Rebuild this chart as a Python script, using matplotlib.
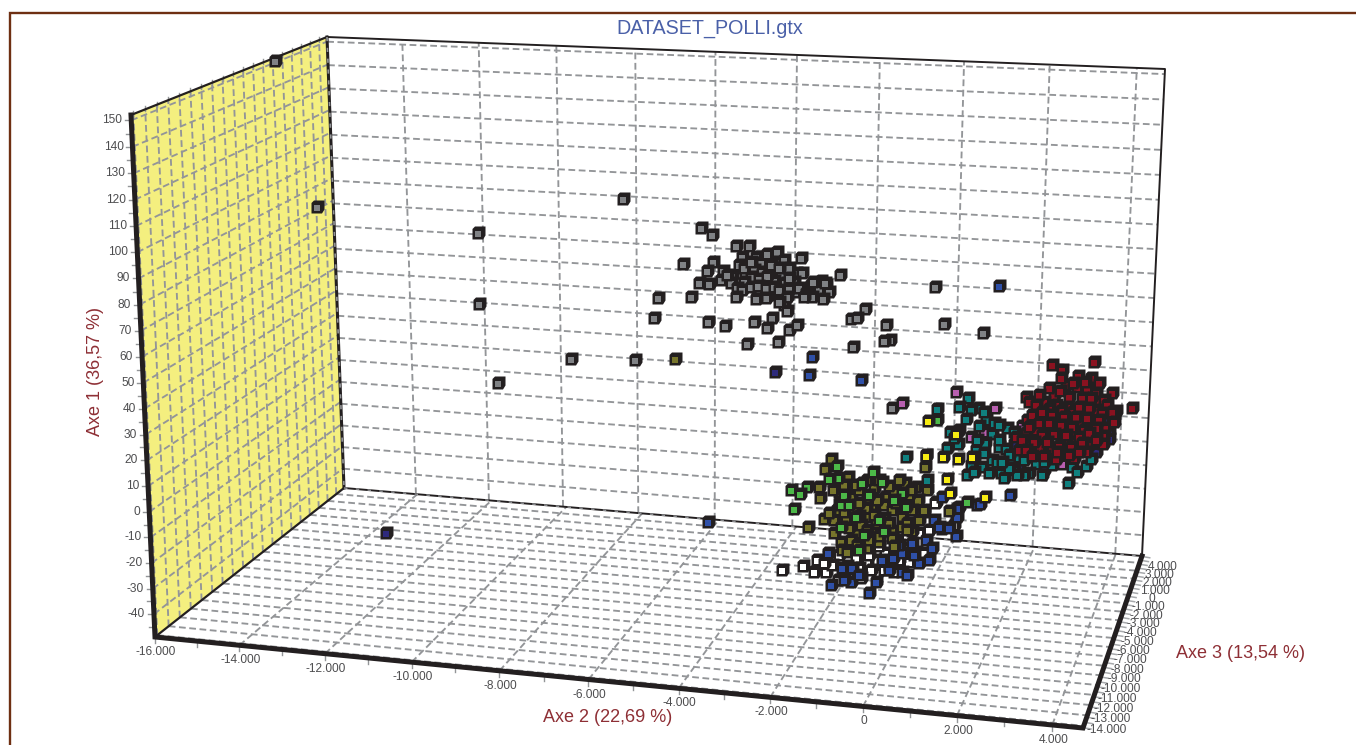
import numpy as np
import matplotlib
matplotlib.use("Agg")
import matplotlib.pyplot as plt
from matplotlib.path import Path
from matplotlib.collections import PathCollection
from matplotlib.transforms import IdentityTransform

plt.rcParams['font.family'] = ['Liberation Sans', 'DejaVu Sans']

# tick values of the three axes
axe2_ticks = [-16000, -14000, -12000, -10000, -8000, -6000, -4000, -2000, 0, 2000, 4000]
axe2_labels = ['-16.000', '-14.000', '-12.000', '-10.000', '-8.000', '-6.000', '-4.000', '-2.000', '0', '2.000', '4.000']
axe1_ticks = [150, 140, 130, 120, 110, 100, 90, 80, 70, 60, 50, 40, 30, 20, 10, 0, -10, -20, -30, -40]
axe3_ticks = [4000, 3000, 2000, 1000, 0, -1000, -2000, -3000, -4000, -5000, -6000, -7000, -8000, -9000,
              -10000, -11000, -12000, -13000, -14000]
axe3_labels = ['4.000', '3.000', '2.000', '1.000', '0', '-1.000', '-2.000', '-3.000', '-4.000', '-5.000',
               '-6.000', '-7.000', '-8.000', '-9.000', '-10.000', '-11.000', '-12.000', '-13.000', '-14.000']

# points as seen on the projected picture (screen x, screen y)
gray_pts = [(276,61),(318,207),(624,199),(479,233),(480,304),(572,359),(636,360),(499,383),(936,287),(945,324),
    (984,333),(891,340),(885,341),(702,228),(713,235),(737,246),(750,246),(743,257),(740,265),(757,257),(762,263),
    (768,254),(778,252),(777,262),(785,260),(802,258),(684,264),(714,262),(708,271),(724,271),(722,280),(733,276),
    (732,283),(746,273),(700,283),(710,284),(773,275),(782,276),(797,273),(803,273),(841,275),(822,281),(827,285),
    (770,270),(775,281),(786,283),(765,282),(795,282),(745,268),(755,270),(763,272),(752,277),(760,279),(768,276),
    (790,268),(772,265),(780,268),(790,278),(758,292),(770,295),(796,292),(812,285),(818,292),(745,282),(728,275),
    (738,288),(785,305),(752,262),(820,290),(830,292),(814,282),(826,283),
    (743,290),(752,287),(759,286),(767,288),(775,287),(780,290),
    (790,289),(800,288),(807,293),(813,297),(805,297),(824,299),(788,297),(780,302),(767,298),(757,299),(737,297),
    (692,297),(659,298),(788,311),(866,309),(852,319),(858,318),(655,318),(709,322),(726,326),(755,322),(773,318),
    (768,328),(790,330),(798,325),(887,325),(854,347),(779,342),(748,344),(893,408)]
blue_pts = [(709,522),(1000,286),(813,357),(810,375),(862,380),(829,553),(832,585),(852,582),(843,568),(870,593),
    (877,582),(903,572),(894,558),(920,563),(927,540),(933,548),(935,520),(925,512),(957,536),(957,515),(960,507),
    (943,497),(978,505),(903,553),(913,543),(853,568),(1011,495),(981,504),(958,517),(958,508),
    (900,545),(890,570),(860,575),(915,555),(940,527),(930,560),(845,580),(883,560),(908,575),(950,528)]
navy_pts = [(387,533),(776,372),(1117,411),(1110,432),(1110,439),(1097,452),(1080,450),(1050,460),(1062,457),
    (1045,470),(1020,468),(1015,444),(1050,448),(1075,440),(1090,425),(1105,420)]
white_pts = [(783,570),(804,566),(815,572),(827,572),(818,560),(839,580),(850,577),(877,560),(878,573),(857,558),
    (840,555),(868,538),(886,553),(910,562),(917,552),(920,533),(908,535),(943,529),(955,525),(937,502),(833,565),
    (885,570),(897,540),(936,503),(868,562),(905,548),(890,565),(848,566),
    (860,568),(870,555),(895,555),(880,546),(900,560),(925,553),(872,570),(845,572),(825,563),(862,578),(895,572),(930,530)]
green_pts = [(792,490),(808,487),(801,494),(795,509),(838,466),(874,472),(842,505),(839,478),(830,479),(863,483),
    (883,482),(903,493),(968,502),(845,495),(857,517),(842,527),(885,531),(860,550),(907,507),(938,420),(870,495),
    (895,500),(850,505),(880,520),(865,535)]
olive_pts = [(676,359),(832,459),(826,469),(809,527),(820,487),(821,498),(849,477),(840,492),(834,490),(852,497),
    (868,500),(860,490),(875,488),(886,497),(885,505),(906,483),(917,487),(928,490),(919,500),(903,505),(893,510),
    (873,508),(855,508),(847,519),(835,520),(825,519),(868,517),(885,518),(903,517),(920,520),(913,531),(893,531),
    (873,532),(857,533),(842,542),(843,550),(868,548),(893,538),(950,511),(926,467),(867,508),(877,523),(862,525),
    (903,527),(927,455),(845,485),(880,480),(895,492),(910,495),(838,510),(852,540),(880,542),
    (857,485),(868,480),(890,486),(900,480),(912,490),(840,503),(860,503),(878,500),(897,503),(913,510),(830,513),
    (845,512),(860,516),(875,515),(890,523),(908,523),(925,510),(850,528),(868,530),(880,536),(895,546),(858,545),
    (908,530),(835,533),(848,552),(870,540)]
yellow_pts = [(929,421),(957,434),(927,456),(944,457),(959,459),(948,479),(951,493),(986,497),(973,457)]
pink_pts = [(957,392),(903,403),(996,408),(972,437),(1023,426),(1063,464),(985,432)]
teal_pts = [(969,398),(938,409),(960,407),(979,408),(972,410),(967,419),(987,420),(980,426),(995,423),(993,434),
    (951,432),(1008,428),(1015,432),(959,444),(948,448),(977,450),(986,443),(1000,447),(1007,449),(907,457),(972,465),
    (983,467),(993,460),(968,475),(1002,473),(1005,478),(1012,462),(1020,457),(1037,455),(1040,443),(1037,464),
    (1030,473),(1043,475),(1025,475),(1073,467),(1078,472),(1087,466),(1092,459),(1069,483),(1053,465),(975,472),
    (928,480),(955,438),(998,462),(1015,470),
    (1000,440),(1010,455),(1025,460),(1045,462),(1030,450),(985,453),(975,458),(960,430),(1018,475),(1010,468),
    (990,473),(978,440),(1000,425),(985,412),(1003,462)]
red_pts = [(1053,365),(1063,370),(1095,362),(1079,376),(1092,378),(1100,383),(1067,385),(1078,387),(1088,388),
    (1113,393),(1097,393),(1055,395),(1070,397),(1083,398),(1027,397),(1030,402),(1098,402),(1045,402),(1057,405),(1068,407),
    (1062,378),(1074,383),(1086,382),(1050,388),(1040,395),(1061,391),(1092,398),(1105,400),(1037,405),(1050,409),
    (1062,411),(1074,412),(1085,413),(1096,410),(1108,405),(1028,420),(1037,419),(1047,418),(1058,420),(1070,422),
    (1082,424),(1094,424),(1106,428),(1027,433),(1037,430),(1048,429),(1060,431),(1072,432),(1084,436),(1096,434),
    (1104,436),(1017,437),(1041,447),(1053,449),(1065,441),(1077,442),(1090,445),(1104,444),(1020,450),(1064,452),
    (1075,458),(1087,452),(1045,456),(1057,459),
    (1080,407),(1090,408),(1133,408),(1113,412),(1103,413),(1033,415),(1043,412),(1053,415),(1065,417),(1077,417),
    (1088,418),(1100,420),(1115,422),(1040,423),(1050,423),(1062,425),(1073,427),(1085,430),(1097,428),(1030,427),
    (1055,434),(1043,435),(1067,435),(1080,437),(1090,433),(1023,440),(1035,442),(1048,442),(1060,446),(1072,447),
    (1083,443),(1097,440),(1027,450),(1033,456),(1070,455),(1058,452),(1080,452)]

# series in drawing order, back ones first
series_pts = [gray_pts, white_pts, blue_pts, olive_pts, green_pts, navy_pts, pink_pts, teal_pts, yellow_pts, red_pts]
series_colors = ['#808285', '#ffffff', '#2f50a8', '#77752c', '#4cb848', '#2e2a7c', '#b85fb0', '#10807f', '#f7ec13', '#8a1220']

ink = '#231f20'
grid_col = '#939598'
label_col = '#8e2f35'
tick_col = '#4d4d4f'
dash = (0, (3.6, 1.9))
grid_lw = 1.35

# box corners on screen, the scales below go through them
floor_c = [(155, 637), (1083, 728), (1142, 556), (344, 488)]
back_c = [(344, 488), (1142, 556), (1165, 69), (327, 37)]
left_c = [(155, 637), (344, 488), (327, 37), (131, 115)]
x_end = 4640
y_lo, y_hi = -49, 152
z_lo, z_hi = -14200, 4900


def homography(corners):
    # unit square (0,0),(1,0),(1,1),(0,1) -> corners
    uv = [(0, 0), (1, 0), (1, 1), (0, 1)]
    A, b = [], []
    for (u, v), (x, y) in zip(uv, corners):
        A.append([u, v, 1, 0, 0, 0, -u * x, -v * x])
        A.append([0, 0, 0, u, v, 1, -u * y, -v * y])
        b += [x, y]
    h = np.linalg.solve(np.array(A, float), np.array(b, float))
    H = np.append(h, 1).reshape(3, 3)

    def f(u, v):
        p = H @ np.array([u, v, 1.0])
        return p[0] / p[2], p[1] / p[2]
    return f


def xn(v):
    return (v + 16000) / (x_end + 16000)


def yn(v):
    return (v - y_lo) / (y_hi - y_lo)


def zn(v):
    # 0 at the front, 1 at the back
    return (v - z_lo) / (z_hi - z_lo)


floor_h = homography(floor_c)
back_h = homography(back_c)
left_h = homography(left_c)

fig = plt.figure(figsize=(13.56, 7.45), dpi=100)
ax = fig.add_axes([0, 0, 1, 1])
ax.set_xlim(0, 1356)
ax.set_ylim(745, 0)
ax.axis('off')

ax.add_patch(plt.Polygon(left_c, closed=True, fc='#f4ef7f', ec='none', zorder=1))

# grids
x_grid = np.arange(-16000, x_end, 2000)
y_grid = np.array(axe1_ticks)
z_grid = np.array(axe3_ticks)
for v in x_grid[1:]:
    pts = [floor_h(xn(v), 0), floor_h(xn(v), 1)]
    ax.plot(*zip(*pts), color=grid_col, lw=grid_lw, ls=dash, zorder=2)
    pts = [back_h(xn(v), 0), back_h(xn(v), 1)]
    ax.plot(*zip(*pts), color=grid_col, lw=grid_lw, ls=dash, zorder=2)
for v in y_grid:
    pts = [back_h(0, yn(v)), back_h(1, yn(v))]
    ax.plot(*zip(*pts), color=grid_col, lw=grid_lw, ls=dash, zorder=2)
    pts = [left_h(0, yn(v)), left_h(1, yn(v))]
    ax.plot(*zip(*pts), color=grid_col, lw=grid_lw, ls=dash, zorder=2)
for v in z_grid:
    pts = [floor_h(0, zn(v)), floor_h(1, zn(v))]
    ax.plot(*zip(*pts), color=grid_col, lw=grid_lw, ls=dash, zorder=2)
    pts = [left_h(zn(v), 0), left_h(zn(v), 1)]
    ax.plot(*zip(*pts), color=grid_col, lw=grid_lw, ls=dash, zorder=2)

# box edges
ax.plot(*zip(back_c[3], back_c[2], back_c[1]), color=ink, lw=1.4, zorder=3)
ax.plot(*zip(left_c[3], left_c[2]), color=ink, lw=1.6, zorder=3)
ax.plot(*zip(left_c[2], left_c[1]), color=ink, lw=2.2, zorder=3)
ax.plot(*zip(left_c[2], left_c[1]), color=grid_col, lw=1.2, ls=(0, (2.5, 4)), zorder=3)
ax.plot(*zip(left_c[0], left_c[1]), color=ink, lw=1.6, zorder=3)
ax.plot(*zip(back_c[0], back_c[1]), color=ink, lw=1.4, zorder=3)
ax.plot(*zip(back_c[0], back_c[1]), color=grid_col, lw=1.0, ls=(0, (2.5, 6)), zorder=3)
ax.plot(*zip(left_c[3], left_c[0], floor_c[1], floor_c[2]), color=ink, lw=3.6, solid_joinstyle='miter', zorder=4)

# minor and major ticks on the thick edges
for v in np.arange(-16000, x_end, 1000):
    x, y = floor_h(xn(v), 0)
    ax.plot([x, x], [y + 2, y + 6], color=grid_col, lw=1.0, zorder=2)
for v in np.arange(-45, 151, 5):
    x, y = left_h(0, yn(v))
    ax.plot([x - 6, x - 2], [y, y], color=grid_col, lw=1.0, zorder=2)
for v in np.arange(z_lo, z_hi + 1, 500):
    x, y = floor_h(1, zn(v))
    ax.plot([x + 2, x + 8], [y, y + 1], color='#a7a9ac', lw=1.1, zorder=2)
for v in z_grid:
    x, y = left_h(zn(v), 1)
    ax.plot([x, x], [y - 3, y + 2], color=grid_col, lw=1.0, zorder=2)

# tick labels
for v, lab in zip(axe2_ticks, axe2_labels):
    x, y = floor_h(xn(v), 0)
    ax.text(x + 1, y + 15, lab, color=tick_col, fontsize=8.6, ha='center', va='center')
for v in axe1_ticks:
    x, y = left_h(0, yn(v))
    ax.text(x - 9, y, str(v), color=tick_col, fontsize=8.6, ha='right', va='center')
for v, lab in zip(axe3_ticks, axe3_labels):
    x, y = floor_h(1, zn(v))
    ax.text(x + 23, y + 4, lab, color=tick_col, fontsize=8.6, ha='center', va='center')

# cubes, body and front face drawn in turn so that they overlap like the original
body = Path([(-6.5, -6.5), (4, -6.5), (6.5, -2.5), (6.5, 6.5), (-4, 6.5), (-6.5, 4), (-6.5, -6.5)], closed=True)
front = Path([(-4.2, -4.2), (2.3, -4.2), (2.3, 2.3), (-4.2, 2.3), (-4.2, -4.2)], closed=True)
paths, offsets, colors = [], [], []
for pts, col in zip(series_pts, series_colors):
    for p in pts:
        paths += [body, front]
        offsets += [p, p]
        colors += [ink, col]
cubes = PathCollection(paths, offsets=np.array(offsets, float), offset_transform=ax.transData,
                       transform=IdentityTransform(), facecolors=colors, edgecolors='none', zorder=5)
ax.add_collection(cubes, autolim=False)

# titles
ax.text(710, 29, 'DATASET_POLLI.gtx', color='#4a60a8', fontsize=14.2, ha='center', va='center')
ax.text(95, 371, 'Axe 1 (36,57 %)', color=label_col, fontsize=13, rotation=90, ha='center', va='center')
ax.text(608, 717, 'Axe 2 (22,69 %)', color=label_col, fontsize=13, ha='center', va='center')
ax.text(1241, 653, 'Axe 3 (13,54 %)', color=label_col, fontsize=13, ha='center', va='center')

# page frame
ax.plot([9.5, 9.5, 1356], [745, 12.5, 12.5], color='#6e2f12', lw=1.7, solid_joinstyle='miter', zorder=6)

fig.savefig('out.png', dpi=100)
